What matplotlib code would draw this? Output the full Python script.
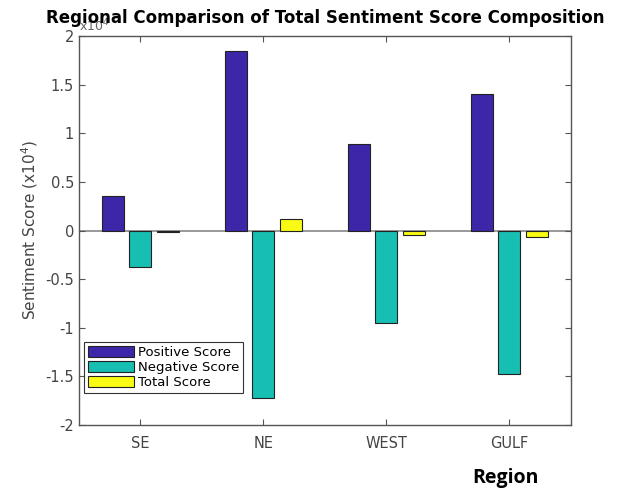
import matplotlib
matplotlib.use("Agg")
import matplotlib.pyplot as plt
import numpy as np
from matplotlib.ticker import FuncFormatter, MultipleLocator

plt.rcParams['axes.unicode_minus'] = False

regions = ["SE", "NE", "WEST", "GULF"]
positive = [3500, 18400, 8850, 14000]
negative = [-3700, -17200, -9500, -14700]
total = [-150, 1200, -500, -650]
series_names = ["Positive Score", "Negative Score", "Total Score"]
colors = ["#3e26a8", "#17bfb3", "#f9fb15"]

fig = plt.figure(figsize=(6.26, 4.92), dpi=100)
ax = fig.add_axes([0.126, 0.136, 0.786, 0.791])

x = np.arange(1, len(regions) + 1)
offset = 0.667 / 3
width = 0.8 * offset
gray = "#555555"
for i, (vals, name, c) in enumerate(zip([positive, negative, total], series_names, colors)):
    ax.bar(x + (i - 1) * offset, np.array(vals) / 1e4, width=width, color=c,
           edgecolor="#222222", linewidth=0.8, label=name, zorder=2)

ax.axhline(0, color="#888888", linewidth=1.2, zorder=1.5)
ax.set_xlim(0.5, 4.5)
ax.set_ylim(-2, 2)
ax.yaxis.set_major_locator(MultipleLocator(0.5))
ax.yaxis.set_major_formatter(FuncFormatter(lambda v, p: "%g" % v))
ax.set_xticks(x)
ax.set_xticklabels(regions)
ax.tick_params(direction="in", top=True, right=True, colors=gray, labelsize=10.5,
               length=4, width=0.8, labelcolor="#444444")
ax.tick_params(axis='x', pad=8)
for s in ax.spines.values():
    s.set_color("#555555")
    s.set_linewidth(1.0)

ax.text(0.0, 1.003, "x10$^4$", transform=ax.transAxes, ha="left", va="bottom",
        fontsize=9, color="#666666")
ax.set_ylabel("Sentiment Score (x10$^4$)", fontsize=11, color="#444444", labelpad=4)
ax.set_title("Regional Comparison of Total Sentiment Score Composition",
             fontsize=12, fontweight="bold", pad=9)

leg = ax.legend(loc="lower left", bbox_to_anchor=(0.005, 0.075), fontsize=9.5,
                fancybox=False, edgecolor="#333333", framealpha=1,
                handlelength=3.5, handleheight=0.95, labelspacing=0.15,
                borderpad=0.3, handletextpad=0.3, borderaxespad=0.2)
leg.get_frame().set_linewidth(0.8)

fig.text(505 / 626, 1 - 478 / 492, "Region", ha="center", va="center",
         fontsize=14, fontweight="bold", family=["Open Sans", "DejaVu Sans"])

fig.savefig("out.png", dpi=100)
